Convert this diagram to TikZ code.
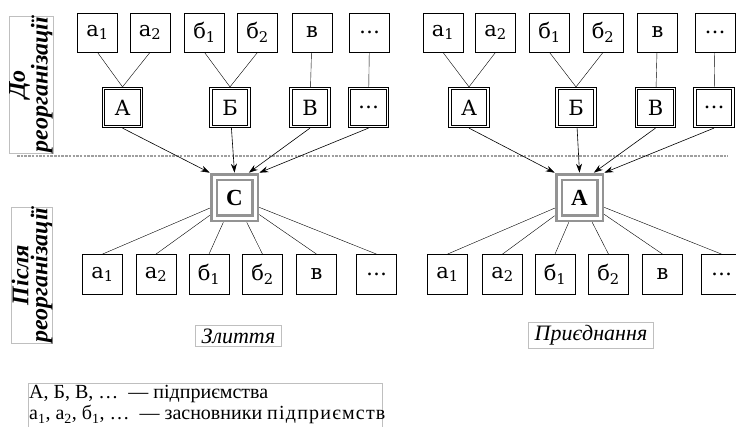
\documentclass[tikz,border=0pt]{standalone}
\usepackage{fontspec}
\setmainfont{Liberation Serif}
\newfontfamily\boxfont{DejaVu Serif}
\usetikzlibrary{arrows.meta}

\begin{document}
\begin{tikzpicture}[x=1pt,y=-1pt]
	\tikzstyle{f} = [draw, line width=0.8pt, minimum width=40pt, minimum height=39pt, inner sep=0pt, font=\boxfont\fontsize{21}{24}\selectfont]
	\tikzstyle{p} = [f, double, double distance=1.6pt, minimum size=38pt, outer sep=1.6pt]
	\tikzstyle{g} = [draw=gray!85, line width=2.8pt, double, double distance=3pt, minimum size=41pt, outer sep=4.3pt, inner sep=0pt, font=\bfseries\fontsize{23}{24}\selectfont]
	\tikzstyle{l} = [draw=gray!50, line width=0.5pt, inner xsep=6pt, inner ysep=3pt, font=\itshape\fontsize{22}{24}\selectfont]
	\tikzstyle{v} = [l, font=\bfseries\itshape\fontsize{24}{19}\selectfont, rotate=90, align=center, minimum height=40pt, inner sep=0pt]
	\tikzstyle{a} = [-{Stealth[length=9pt,width=6pt]}, line width=0.6pt]
	\useasboundingbox (0,0) rectangle (736,426);
	\clip (0,0) rectangle (736,426);
	% side labels
	\node[v, minimum width=137pt] (before) at (31,84.5) {До\\реорганізації};
	\node[v, minimum width=136pt] (after) at (32,275) {Після\\реорганізації};
	% divider
	\coordinate (d1) at (17,156);
	\coordinate (d2) at (728,156);
	\draw[gray!75, line width=1.6pt, dash pattern=on 2.5pt off 1.2pt] (d1) -- (d2);
	% left: founders before
	\node[f] (la1) at (97.5,32.5) {а\textsubscript{1}};
	\node[f] (la2) at (150,32.5) {а\textsubscript{2}};
	\node[f] (lb1) at (204.5,32.5) {б\textsubscript{1}};
	\node[f] (lb2) at (257.5,32.5) {б\textsubscript{2}};
	\node[f] (lv) at (312,32.5) {в};
	\node[f] (ld) at (369.5,32.5) {…};
	% left: enterprises
	\node[p] (lA) at (122.5,107.5) {А};
	\node[p] (lB) at (230,107.5) {Б};
	\node[p] (lV) at (310,107.5) {В};
	\node[p] (lD) at (368.5,107.5) {…};
	\node[g] (lC) at (234.5,197.5) {С};
	% left: founders after
	\node[f, minimum height=40pt] (lc1) at (102.5,274.5) {а\textsubscript{1}};
	\node[f, minimum height=40pt] (lc2) at (156,274.5) {а\textsubscript{2}};
	\node[f, minimum height=40pt] (lc3) at (209,274.5) {б\textsubscript{1}};
	\node[f, minimum height=40pt] (lc4) at (262.5,274.5) {б\textsubscript{2}};
	\node[f, minimum height=40pt] (lc5) at (316.5,274.5) {в};
	\node[f, minimum height=40pt] (lc6) at (376.5,274.5) {…};
	\node[l] (merge) at (238.5,336) {Злиття};
	% right: founders before
	\node[f] (ra1) at (443,32.5) {а\textsubscript{1}};
	\node[f] (ra2) at (495.5,32.5) {а\textsubscript{2}};
	\node[f] (rb1) at (549.5,32.5) {б\textsubscript{1}};
	\node[f] (rb2) at (603,32.5) {б\textsubscript{2}};
	\node[f] (rv) at (657.5,32.5) {в};
	\node[f] (rd) at (715,32.5) {…};
	% right: enterprises
	\node[p] (rA) at (469,107.5) {А};
	\node[p] (rB) at (576,107.5) {Б};
	\node[p] (rV) at (655.5,107.5) {В};
	\node[p] (rD) at (714,107.5) {…};
	\node[g] (rC) at (579.5,197.5) {А};
	% right: founders after
	\node[f, minimum height=40pt] (rc1) at (447.5,274.5) {а\textsubscript{1}};
	\node[f, minimum height=40pt] (rc2) at (502.5,274.5) {а\textsubscript{2}};
	\node[f, minimum height=40pt] (rc3) at (555,274.5) {б\textsubscript{1}};
	\node[f, minimum height=40pt] (rc4) at (608.5,274.5) {б\textsubscript{2}};
	\node[f, minimum height=40pt] (rc5) at (662.5,274.5) {в};
	\node[f, minimum height=40pt] (rc6) at (721.5,274.5) {…};
	\node[l] (join) at (591,335.5) {Приєднання};
	% links
	\foreach \s in {l,r} {
		\draw (\s a1.south) -- (\s A.north);
		\draw (\s a2.south) -- (\s A.north);
		\draw (\s b1.south) -- (\s B.north);
		\draw (\s b2.south) -- (\s B.north);
		\draw (\s v) -- (\s V);
		\draw (\s d) -- (\s D);
		\draw[a] (\s A.south) -- (\s C.north west);
		\draw[a] (\s B) -- (\s C.north);
		\draw[a] (\s V.south) -- (\s C.60);
		\draw[a] (\s D.south) -- (\s C.north east);
		\foreach \i in {1,...,6}
			\draw (\s C) -- (\s c\i.north);
	}
	% legend
	\coordinate (k1) at (28,440);
	\coordinate (k2) at (382,383);
	\draw[gray!50, line width=0.5pt] (k1) |- (k2) -- ++(0,57);
	\node[anchor=north west, align=left, inner sep=0pt, font=\fontsize{20}{21.5}\selectfont] (key) at (29,385)
		{А, Б, В, … \ — підприємства\\
		 а\textsubscript{1}, а\textsubscript{2}, б\textsubscript{1}, … \ — засновники \addfontfeature{LetterSpace=6}підприємств};
\end{tikzpicture}
\end{document}
